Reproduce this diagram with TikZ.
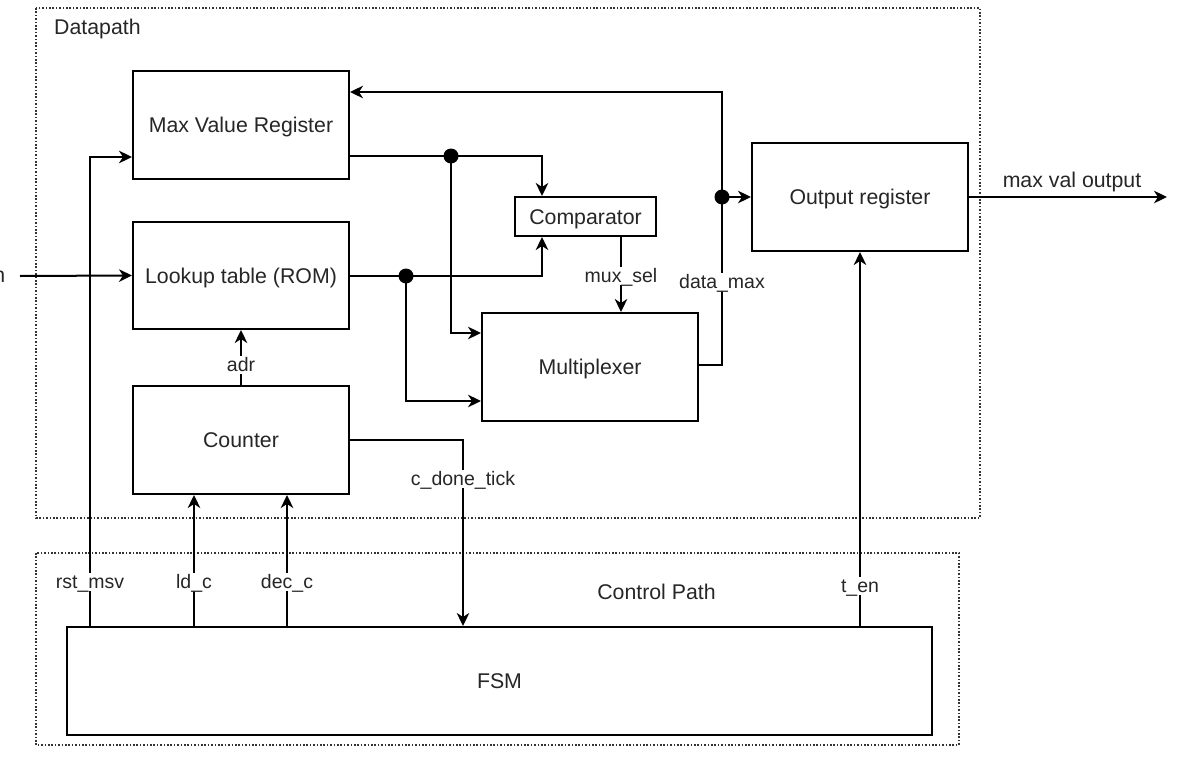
\documentclass[tikz,border=0pt]{standalone}
\usepackage{fontspec}
\setmainfont{Liberation Sans}
\usetikzlibrary{arrows.meta,calc}
\tikzset{
  blk/.style={draw=black, line width=2pt, fill=white, inner sep=0pt, text height=15.3pt, text depth=0pt, font=\fontsize{21.3}{25}\selectfont, text=black!85},
  wire/.style={draw=black, line width=2pt},
  arr/.style={wire, -{Stealth[length=13pt,width=12.5pt,inset=4pt]}},
  lab/.style={fill=white, inner sep=1.5pt, text height=14pt, text depth=1pt, font=\fontsize{19.5}{23}\selectfont, text=black!85},
  ttl/.style={inner sep=0pt, font=\fontsize{21.3}{25}\selectfont, text=black!85},
  region/.style={draw=black!80, line width=1.6pt, dash pattern=on 1.6pt off 1.8pt},
  junction/.style={fill=black}
}
\begin{document}
\begin{tikzpicture}[x=1pt,y=-1pt]
\useasboundingbox (0,0) rectangle (1201,773);
% regions
\draw[region] (36,8) rectangle (980,518);
\draw[region] (36,553) rectangle (959,745);
\node[ttl, anchor=west] (tdp) at (54,29) {Datapath};
\node[ttl] (tcp) at (656.5,592) {Control Path};
% blocks
\node[blk, minimum width=216pt, minimum height=108pt] (mvr) at (241,125) {Max Value Register};
\node[blk, minimum width=216pt, minimum height=107pt] (lut) at (241,275.5) {Lookup table (ROM)};
\node[blk, minimum width=216pt, minimum height=108pt] (cnt) at (241,440) {Counter};
\node[blk, minimum width=141pt, minimum height=39pt] (cmp) at (585.5,216.5) {Comparator};
\node[blk, minimum width=216pt, minimum height=108pt] (mux) at (590,367) {Multiplexer};
\node[blk, minimum width=216pt, minimum height=108pt] (out) at (860,197) {Output register};
\node[blk, minimum width=865pt, minimum height=108pt] (fsm) at (499.5,681) {FSM};
% helper coordinates
\coordinate (nin) at (20,276);
\coordinate (rstx) at (90,0);
\coordinate (yrst) at (0,157);
\coordinate (d1) at (451,156);
\coordinate (d2) at (406,276);
\coordinate (d3) at (722,197);
\coordinate (c542) at (542,0);
\coordinate (c621) at (621,0);
\coordinate (y333) at (0,333);
\coordinate (y401) at (0,401);
\coordinate (y365) at (0,365);
\coordinate (y92) at (0,92);
\coordinate (xdm) at (722,0);
\coordinate (xout) at (1167,0);
\coordinate (x194) at (194,0);
\coordinate (x287) at (287,0);
\coordinate (x463) at (463,0);
% input
\node[ttl, anchor=base east] (nlab) at (5.5,282) {n};
\draw[arr] (nin) -- (lut.west);
% rst_msv
\draw[arr] (fsm.north -| rstx) |- (mvr.west |- yrst);
% MVR output
\draw[wire] (mvr.east |- d1) -- (d1);
\draw[arr] (d1) -| (cmp.north -| c542);
\draw[arr] (d1) |- (mux.west |- y333);
% LUT output
\draw[wire] (lut.east |- d2) -- (d2);
\draw[arr] (d2) -| (cmp.south -| c542);
\draw[arr] (d2) |- (mux.west |- y401);
% mux_sel
\draw[arr] (cmp.south -| c621) -- (mux.north -| c621);
% data_max
\draw[arr] (mux.east |- y365) -| (xdm |- y92) -- (mvr.east |- y92);
\draw[arr] (d3) -- (out.west |- d3);
% output
\draw[arr] (out.east) -- (xout |- out.east);
% t_en
\draw[arr] (fsm.north -| out.south) -- (out.south);
% adr
\draw[arr] (cnt.north) -- (lut.south);
% ld_c, dec_c
\draw[arr] (fsm.north -| x194) -- (cnt.south -| x194);
\draw[arr] (fsm.north -| x287) -- (cnt.south -| x287);
% c_done_tick
\draw[arr] (cnt.east) -| (fsm.north -| x463);
% junctions
\fill[junction] (d1) circle (7.5pt);
\fill[junction] (d2) circle (7.5pt);
\fill[junction] (d3) circle (7.5pt);
% labels
\node[lab] (lrst) at (90,582) {rst\_msv};
\node[lab] (lld) at (194,582) {ld\_c};
\node[lab] (ldec) at (287,582) {dec\_c};
\node[lab] (ldone) at (463,479) {c\_done\_tick};
\node[lab] (ladr) at (241,365) {adr};
\node[lab] (lmux) at (621,276) {mux\_sel};
\node[lab] (ldm) at (722,282) {data\_max};
\node[lab] (lten) at (860,586) {t\_en};
\node[ttl] (lmvo) at (1072,182) {max val output};
\end{tikzpicture}
\end{document}
